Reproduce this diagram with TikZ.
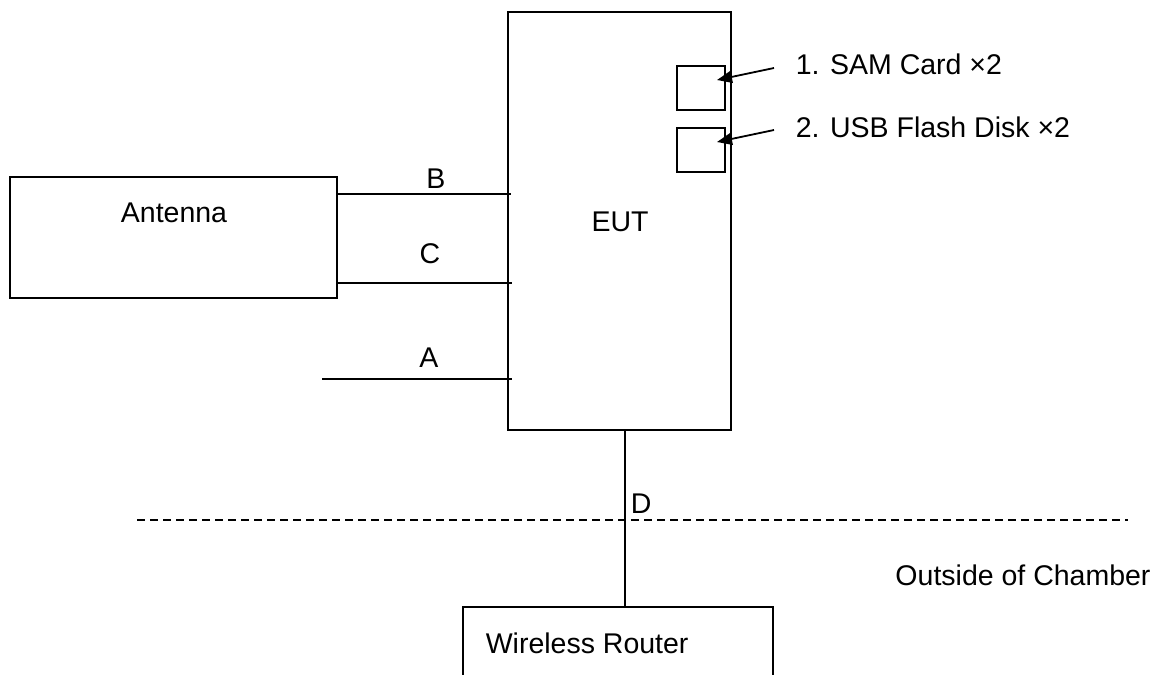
\documentclass[tikz,border=0pt]{standalone}
\usepackage{fontspec}
\setmainfont{Liberation Sans}
\usepackage{tikz}
\usetikzlibrary{arrows.meta}

\begin{document}
\begin{tikzpicture}[x=1pt,y=-1pt,line width=1.6pt,
  box/.style={draw,rectangle,line width=1.6pt,inner sep=0pt},
  lbl/.style={anchor=base,inner sep=0pt,font=\fontsize{28.5}{32}\selectfont},
  pointer/.style={line width=1.8pt,-{Triangle[length=15pt,width=12pt]}}]
\path[use as bounding box] (0,0) rectangle (1160,675);
% units
\node[box,minimum width=223,minimum height=418] (eut) at (619.5,221) {};
\node[box,minimum width=327,minimum height=121] (ant) at (173.5,237.5) {};
\node[box,minimum width=48,minimum height=44] (sam) at (701,88) {};
\node[box,minimum width=48,minimum height=44] (usb) at (701,150) {};
\node[lbl] (eutlbl) at (620,231) {EUT};
\node[lbl] (antlbl) at (174,222) {Antenna};
% cables (they run a little past the EUT edge)
\coordinate (yB) at (0,194);
\coordinate (yC) at (0,283);
\coordinate (aend) at (322,379);
\draw (ant.east |- yB) -- ([xshift=4pt]eut.west |- yB);
\draw (ant.east |- yC) -- ([xshift=5pt]eut.west |- yC);
\draw (aend) -- ([xshift=5pt]eut.west |- aend);
\node[lbl] (blbl) at (436,188) {B};
\node[lbl] (clbl) at (430,263) {C};
\node[lbl] (albl) at (429,367) {A};
% storage
\node[lbl,anchor=base west] (samlbl) at (795,74) {1. SAM Card ×2};
\node[lbl,anchor=base west] (usblbl) at (795,137) {2. USB Flash Disk ×2};
\coordinate (samfrom) at (774,68);
\coordinate (usbfrom) at (774,130);
\draw[pointer] (samfrom) -- (717,80);
\draw[pointer] (usbfrom) -- (717,142);
% chamber wall
\draw[line width=1.3pt,dash pattern=on 8pt off 5pt] (137,520) -- (1128,520);
\node[lbl] (outlbl) at (1023,585) {Outside of Chamber};
% router
\coordinate (rtop) at (625,607);
\draw (463,680) -- (463,607) -- (773,607) -- (773,680);
\node[lbl,anchor=base west] (rtrlbl) at (485,653) {Wireless Router};
\draw (eut.south -| rtop) -- (rtop);
\node[lbl,anchor=base west] (dlbl) at (630,513) {D};
\end{tikzpicture}
\end{document}
